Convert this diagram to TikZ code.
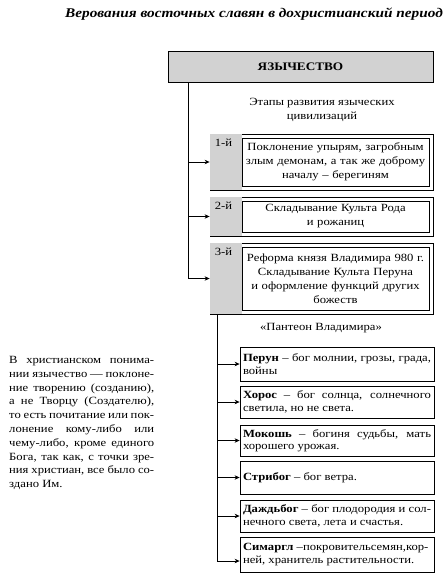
\documentclass[tikz,border=0pt]{standalone}
\usepackage{fontspec}
\setmainfont{Liberation Serif}[FakeStretch=1.15]
\usetikzlibrary{arrows.meta,calc}
\definecolor{lgray}{RGB}{210,210,210}
\begin{document}
\begin{tikzpicture}[x=1pt,y=-1pt,
  font=\fontsize{11}{14}\selectfont,
  box/.style={draw, line width=0.8pt, inner sep=0pt},
  stagebox/.style={draw, line width=0.8pt, fill=white, inner sep=0pt, minimum width=223},
  innerbox/.style={draw, line width=0.8pt, fill=white, inner sep=0pt, minimum width=187, text width=185, align=center},
  pbox/.style={draw, line width=0.8pt, fill=white, inner xsep=3pt, inner ysep=0pt, minimum width=194, text width=188, align=justify, font=\fontsize{11}{12.5}\selectfont},
  arr/.style={-{Stealth[length=5pt,width=4.5pt]}, line width=0.7pt},
  lab/.style={anchor=north west, inner sep=0pt}]
\useasboundingbox (0,0) rectangle (443,575);

\node[font=\bfseries\itshape\fontsize{13.3}{15}\selectfont] (title) at (254,14) {Верования восточных славян в дохристианский период};

\node[box, fill=lgray, minimum width=265, minimum height=31, font=\bfseries\fontsize{11.5}{13}\selectfont] (yaz) at (300.5,66.5) {ЯЗЫЧЕСТВО};

\node[align=center, inner sep=0pt] (etapy) at (322,110) {Этапы развития языческих\\цивилизаций};

% stage 1
\node[stagebox, minimum height=56] (s1) at (321.5,162) {};
\fill[lgray] ([shift={(0.4,0.4)}]s1.north west) rectangle ([shift={(32,-0.4)}]s1.south west);
\node[innerbox, minimum height=48] (t1) at (335.5,162) {Поклонение упырям, загробным\\злым демонам, а так же доброму\\началу – берегиням};
\node[lab] (n1) at ([shift={(5,5)}]s1.north west) {1-й};

% stage 2
\node[stagebox, minimum height=39] (s2) at (321.5,216.5) {};
\fill[lgray] ([shift={(0.4,0.4)}]s2.north west) rectangle ([shift={(32,-0.4)}]s2.south west);
\node[innerbox, minimum height=31] (t2) at (335.5,216.5) {Складывание Культа Рода\\и рожаниц};
\node[lab] (n2) at ([shift={(5,5)}]s2.north west) {2-й};

% stage 3
\node[stagebox, minimum height=71] (s3) at (321.5,278.5) {};
\fill[lgray] ([shift={(0.4,0.4)}]s3.north west) rectangle ([shift={(32,-0.4)}]s3.south west);
\node[innerbox, minimum height=63] (t3) at (335.5,278.5) {Реформа князя Владимира 980 г.\\Складывание Культа Перуна\\и оформление функций других\\божеств};
\node[lab] (n3) at ([shift={(5,5)}]s3.north west) {3-й};

% trunk 1
\coordinate (tr1) at (188,0);
\draw[arr] (yaz.south -| tr1) |- (s3.west);
\draw[arr] (tr1 |- s1.west) -- (s1.west);
\draw[arr] (tr1 |- s2.west) -- (s2.west);

\node[inner sep=0pt] (panth) at (321,328) {«Пантеон Владимира»};

% pantheon boxes
\node[pbox, minimum height=34] (p1) at (337,364) {\textbf{Перун} – бог молнии, грозы, града,\linebreak войны};
\node[pbox, minimum height=32] (p2) at (337,402) {\textbf{Хорос} – бог солнца, солнечного\linebreak светила, но не света.};
\node[pbox, minimum height=31] (p3) at (337,440.5) {\textbf{Мокошь} – богиня судьбы, мать\linebreak хорошего урожая.};
\node[pbox, minimum height=33] (p4) at (337,477.5) {\textbf{Стрибог} – бог ветра.};
\node[pbox, minimum height=32] (p5) at (337,516) {\textbf{Даждьбог} – бог плодородия и сол-\linebreak нечного света, лета и счастья.};
\node[pbox, minimum height=35] (p6) at (337,554.5) {\textbf{Симаргл} –покровительсемян,кор-\\ней, хранитель растительности.};

% trunk 2
\coordinate (tr2) at (217,0);
\coordinate (p6in) at ($(p6.west)+(0,6.5)$);
\draw[arr] (s3.south -| tr2) |- (p6in);
\draw[arr] (tr2 |- p1.west) -- (p1.west);
\draw[arr] (tr2 |- p2.west) -- (p2.west);
\draw[arr] (tr2 |- p3.west) -- (p3.west);
\draw[arr] (tr2 |- p4.west) -- (p4.west);
\draw[arr] (tr2 |- p5.west) -- (p5.west);

% left paragraph
\node[anchor=north west, inner sep=0pt, text width=145, align=justify, font=\fontsize{11}{13.8}\selectfont] (para) at (9,356) {В христианском понима-\linebreak нии язычество — поклоне-\linebreak ние творению (созданию),\linebreak а не Творцу (Создателю),\linebreak то есть почитание или пок-\linebreak лонение кому-либо или\linebreak чему-либо, кроме единого\linebreak Бога, так как, с точки зре-\linebreak ния христиан, все было со-\linebreak здано Им.};
\end{tikzpicture}
\end{document}
